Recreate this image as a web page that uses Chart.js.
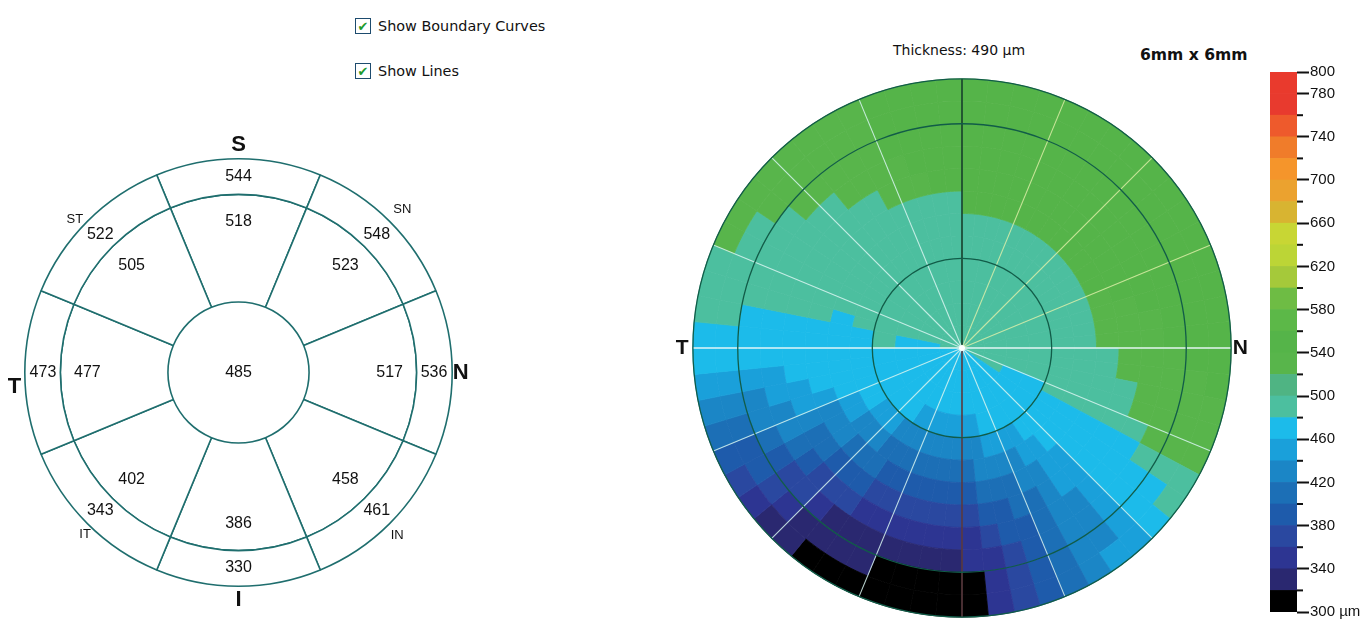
<!DOCTYPE html>
<html>
<head>
<meta charset="utf-8">
<script src="https://cdn.jsdelivr.net/npm/chart.js@4.4.1/dist/chart.umd.min.js"></script>
<style>
  html, body { margin: 0; padding: 0; background: #fff; }
  body { width: 1363px; height: 619px; position: relative; overflow: hidden; font-family: "Liberation Sans", Arial, sans-serif; }
  .pane { position: absolute; }
  .chk { position: absolute; left: 355px; display: flex; align-items: center; font-family: "DejaVu Sans", Tahoma, sans-serif; font-size: 14.4px; color: #111; }
  .chk .b { width: 14px; height: 14px; border: 1px solid #1d4b6e; background: #fff; margin-right: 7px; display: flex; align-items: center; justify-content: center; color: #1f9a2e; font-size: 13px; font-weight: bold; line-height: 1; }
  .txt { position: absolute; font-family: "DejaVu Sans", Tahoma, sans-serif; color: #111; white-space: nowrap; }
</style>
</head>
<body>
<div class="chk" style="top:18px"><span class="b">✔</span>Show Boundary Curves</div>
<div class="chk" style="top:63px"><span class="b">✔</span>Show Lines</div>
<div class="txt" style="left:893px; top:42px; font-size:14px;">Thickness: 490 µm</div>
<div class="txt" style="left:1140px; top:46px; font-size:15.6px; font-weight:bold;">6mm x 6mm</div>

<div class="pane" style="left:0; top:120px; width:477px; height:499px;"><canvas id="sectorChart"></canvas></div>
<div class="pane" style="left:660px; top:70px; width:604px; height:549px;"><canvas id="mapChart"></canvas></div>
<div class="pane" style="left:1262px; top:56px; width:101px; height:566px;"><canvas id="scaleChart"></canvas></div>

<script>
// sector summary, clockwise from superior
const sectorNames = ['S', 'SN', 'N', 'IN', 'I', 'IT', 'T', 'ST'];
const outerThickness = [544, 548, 536, 461, 330, 343, 473, 522];
const middleThickness = [518, 523, 517, 458, 386, 402, 477, 505];
const centralThickness = [485];

// thickness map: 12 rings of 0.25 mm (centre outwards), clockwise from superior.
// rings 1-4: 32 cells of 11.25 deg, rings 5-12: 64 cells of 5.625 deg
const ring1  = [490,490,490,490,490,490,490,490, 490,490,490,478,475,475,475,475, 475,475,475,475,475,478,478,478, 488,490,490,490,490,490,490,490];
const ring2  = [490,490,490,490,490,490,490,490, 490,490,490,475,470,470,470,470, 470,470,470,470,470,472,472,472, 478,482,490,490,490,490,490,490];
const ring3  = [490,490,490,490,490,490,490,490, 490,490,478,470,470,470,470,468, 468,468,468,470,470,470,470,472, 478,490,490,490,490,490,490,490];
const ring4  = [490,490,490,490,490,490,490,490, 490,490,475,470,468,466,462,450, 450,450,450,462,465,470,470,472, 488,490,490,490,490,490,490,490];
const ring5  = [490,490,490,490,490,490,490,490,490,490,490,490,490,490,490,490, 490,490,490,490,482,476,472,470,466,462,455,450,448,444,438,432,
                430,430,430,430,430,432,436,442,448,455,462,466,468,470,470,472, 474,478,490,490,490,490,490,490,490,490,490,490,490,490,490,490];
const ring6  = [490,490,490,492,492,492,492,492,492,492,492,492,492,492,492,490, 490,490,490,490,490,476,472,468,462,455,448,438,434,430,424,418,
                412,410,410,410,412,416,418,424,430,438,445,455,462,466,470,470, 472,474,478,490,490,490,490,490,490,490,490,490,490,490,490,490];
const ring7  = [540,540,542,542,542,544,544,544,544,542,540,540,538,536,535,532, 495,492,490,490,488,476,472,468,452,448,438,432,418,412,405,395,
                392,390,390,392,394,396,402,408,415,425,430,438,448,462,468,470, 472,475,482,490,490,490,490,490,490,490,490,490,490,490,492,492];
const ring8  = [542,544,545,546,546,548,548,548,546,545,544,542,540,538,536,535, 534,530,498,492,488,476,470,462,452,444,434,418,412,398,392,376,
                372,370,370,372,375,378,384,390,396,404,416,424,442,452,462,468, 472,474,484,490,490,490,490,490,490,490,495,525,532,538,540,542];
const ring9  = [545,546,548,548,550,550,550,550,548,548,546,545,542,540,538,538, 536,535,532,525,492,478,472,462,452,438,428,415,398,392,375,355,
                350,348,348,350,352,356,365,372,378,385,402,422,432,445,458,468, 472,475,486,490,490,490,490,490,495,522,528,532,536,540,542,544];
const ring10 = [545,546,548,550,550,552,552,552,550,550,548,546,544,542,540,540, 538,536,534,530,522,490,474,462,450,436,424,412,396,378,356,342,
                332,330,328,328,330,332,336,345,362,376,386,404,424,436,452,466, 472,478,488,490,490,490,490,520,526,528,532,536,540,542,544,545];
const ring11 = [546,548,550,552,552,554,554,554,552,552,550,548,546,544,542,540, 540,538,536,534,528,494,476,462,452,438,424,412,392,366,348,316,
                310,310,310,310,325,328,330,334,342,364,382,396,414,428,446,464, 472,482,488,490,492,498,522,526,528,530,534,538,540,542,544,545];
const ring12 = [548,550,550,552,554,556,556,556,554,554,552,550,548,546,544,542, 540,540,538,536,532,496,488,468,454,442,428,414,395,372,352,312,
                310,310,310,310,310,310,310,325,332,352,372,392,412,432,452,468, 474,486,490,492,520,524,526,528,530,532,536,538,540,542,544,546];
const mapRings = [ring1, ring2, ring3, ring4, ring5, ring6, ring7, ring8, ring9, ring10, ring11, ring12];

// colour scale: lower bound of each 20 um band and its colour
const bandLow = [300,320,340,360,380,400,420,440,460,480,500,520,540,560,580,600,620,640,660,680,700,720,740,760,780];
const bandColors = ['#000000','#2a2870','#2d3592','#2a48a0','#1e5bab','#1c6fb6','#1b86c6','#1aa0da','#1cbbea','#4cbf9f',
                    '#4fb483','#58b54b','#55b449','#5cb848','#6ebc44','#a5c93a','#bcd536','#c8d634','#d8b431','#eba22f',
                    '#f5952b','#f07c2a','#ee5a2c','#e83a2e','#e93a2d'];
const scaleMin = 300, scaleMax = 800;
const scaleLabels = [800, 780, 740, 700, 660, 620, 580, 540, 500, 460, 420, 380, 340, 300];

function bandColor(v) {
  let idx = 0;
  bandLow.forEach((b, i) => { if (v >= b) idx = i; });
  return bandColors[idx];
}

const numFont = '16px "Liberation Sans", Arial, sans-serif';

// ---------- left: sector diagram ----------
const compassMarks = [
  { text: 'S',  deg: 0,     f: 1.066, font: 'bold 22px "Liberation Sans", Arial' },
  { text: 'N',  deg: 90,    f: 1.04,  font: 'bold 22px "Liberation Sans", Arial' },
  { text: 'I',  deg: 180,   f: 1.066, font: 'bold 22px "Liberation Sans", Arial' },
  { text: 'T',  deg: 266.3, f: 1.05,  font: 'bold 22px "Liberation Sans", Arial' },
  { text: 'ST', deg: 313,   f: 1.047, font: '13px "Liberation Sans", Arial' },
  { text: 'SN', deg: 45.2,  f: 1.08,  font: '13px "Liberation Sans", Arial' },
  { text: 'IT', deg: 223.4, f: 1.045, font: '13px "Liberation Sans", Arial' },
  { text: 'IN', deg: 135.7, f: 1.063, font: '13px "Liberation Sans", Arial' }
];

const sectorLabels = {
  id: 'sectorLabels',
  afterDatasetsDraw(chart) {
    const ctx = chart.ctx;
    const outer = chart.getDatasetMeta(0).data;
    const cx = outer[0].x, cy = outer[0].y, R = outer[0].outerRadius;
    ctx.save();
    ctx.fillStyle = '#111';
    ctx.textAlign = 'center';
    ctx.textBaseline = 'middle';
    ctx.font = numFont;
    outer.forEach((el, i) => {
      const mid = (el.startAngle + el.endAngle) / 2;
      ctx.fillText(outerThickness[i], cx + 0.915 * R * Math.cos(mid), cy + 0.915 * R * Math.sin(mid));
      ctx.fillText(middleThickness[i], cx + 0.707 * R * Math.cos(mid), cy + 0.707 * R * Math.sin(mid));
    });
    ctx.fillText(centralThickness[0], cx, cy);
    compassMarks.forEach(m => {
      const a = m.deg * Math.PI / 180;
      ctx.font = m.font;
      ctx.fillText(m.text, cx + m.f * R * Math.sin(a), cy - m.f * R * Math.cos(a));
    });
    ctx.restore();
  }
};

const ringStyle = { backgroundColor: '#ffffff', borderColor: '#1f6e6e', borderWidth: 1.6, hoverOffset: 0, offset: 0 };

new Chart(document.getElementById('sectorChart'), {
  type: 'doughnut',
  data: {
    labels: sectorNames,
    datasets: [
      Object.assign({ data: outerThickness.map(() => 1), weight: 35.5 }, ringStyle),
      Object.assign({ data: middleThickness.map(() => 1), weight: 107.5 }, ringStyle),
      // central zone: its outline comes from the middle ring's inner edge
      Object.assign({}, ringStyle, { data: centralThickness.map(() => 1), weight: 70.5, borderWidth: 0 })
    ]
  },
  options: {
    responsive: true,
    maintainAspectRatio: false,
    animation: false,
    events: [],
    cutout: 0,
    rotation: -22.5,
    layout: { padding: { left: 24, right: 24, top: 38, bottom: 32 } },
    plugins: { legend: { display: false }, tooltip: { enabled: false } }
  },
  plugins: [sectorLabels]
});

// ---------- right: thickness map ----------
const mapOverlay = {
  id: 'mapOverlay',
  afterDatasetsDraw(chart) {
    const ctx = chart.ctx;
    const el = chart.getDatasetMeta(0).data[0];
    const cx = el.x, cy = el.y, R = el.outerRadius;
    ctx.save();
    // meridians every 22.5 deg
    for (let i = 0; i < 16; i++) {
      const a = i * Math.PI / 8;
      ctx.beginPath();
      ctx.moveTo(cx, cy);
      ctx.lineTo(cx + R * Math.sin(a), cy - R * Math.cos(a));
      if (i === 0) { ctx.strokeStyle = '#173f2c'; ctx.lineWidth = 1.6; }
      else if (i === 8) { ctx.strokeStyle = '#5b3a3f'; ctx.lineWidth = 1.6; }
      else if (i === 4 || i === 12) { ctx.strokeStyle = 'rgba(235,250,250,0.95)'; ctx.lineWidth = 1.6; }
      else if (i < 4) { ctx.strokeStyle = 'rgba(225,240,170,0.8)'; ctx.lineWidth = 1.1; }
      else { ctx.strokeStyle = 'rgba(215,245,240,0.85)'; ctx.lineWidth = 1.1; }
      ctx.stroke();
    }
    // 2 mm, 5 mm and 6 mm zone circles
    ctx.strokeStyle = '#115c48';
    ctx.lineWidth = 1.3;
    [1 / 3, 2.5 / 3, 1].forEach(f => {
      ctx.beginPath();
      ctx.arc(cx, cy, R * f, 0, Math.PI * 2);
      ctx.stroke();
    });
    // centre mark
    ctx.fillStyle = '#ffffff';
    ctx.beginPath();
    ctx.arc(cx, cy, 3, 0, Math.PI * 2);
    ctx.fill();
    // T / N labels
    ctx.fillStyle = '#111';
    ctx.font = 'bold 21px "Liberation Sans", Arial';
    ctx.textAlign = 'center';
    ctx.textBaseline = 'middle';
    ctx.fillText('T', cx - 1.04 * R, cy);
    ctx.fillText('N', cx + 1.034 * R, cy);
    ctx.restore();
  }
};

new Chart(document.getElementById('mapChart'), {
  type: 'doughnut',
  data: {
    labels: ring12.map((v, i) => 'cell ' + (i + 1)),
    datasets: mapRings.slice().reverse().map(ring => ({
      data: ring.map(() => 1),
      backgroundColor: ring.map(bandColor),
      borderColor: ring.map(bandColor),
      borderWidth: 0.8,
      hoverOffset: 0
    }))
  },
  options: {
    responsive: true,
    maintainAspectRatio: false,
    animation: false,
    events: [],
    cutout: 0,
    rotation: 0,
    layout: { padding: { left: 32.5, right: 32.5, top: 8.5, bottom: 1.5 } },
    plugins: { legend: { display: false }, tooltip: { enabled: false } }
  },
  plugins: [mapOverlay]
});

// ---------- colour scale ----------
const minorTicks = {
  id: 'minorTicks',
  afterDraw(chart) {
    const y = chart.scales.y;
    const ctx = chart.ctx;
    ctx.save();
    ctx.strokeStyle = '#111';
    ctx.lineWidth = 2;
    bandLow.concat([scaleMax]).forEach(v => {
      if (scaleLabels.includes(v)) return;
      const py = y.getPixelForValue(v);
      ctx.beginPath();
      ctx.moveTo(y.left, py);
      ctx.lineTo(y.left + 6, py);
      ctx.stroke();
    });
    ctx.restore();
  }
};

new Chart(document.getElementById('scaleChart'), {
  type: 'bar',
  data: {
    labels: ['µm'],
    datasets: bandLow.map((lo, i) => ({
      data: [[lo, lo + 20]],
      backgroundColor: bandColors[i],
      borderWidth: 0,
      grouped: false,
      barPercentage: 1,
      categoryPercentage: 1
    }))
  },
  options: {
    responsive: true,
    maintainAspectRatio: false,
    animation: false,
    events: [],
    layout: { padding: { left: 8, right: 0, top: 16, bottom: 10 } },
    plugins: { legend: { display: false }, tooltip: { enabled: false } },
    scales: {
      x: { display: false },
      y: {
        position: 'right',
        min: scaleMin,
        max: scaleMax,
        border: { display: false },
        afterBuildTicks: s => { s.ticks = bandLow.concat([scaleMax]).map(v => ({ value: v })); },
        afterFit: s => { s.width = 66; },
        grid: {
          drawOnChartArea: false,
          drawTicks: true,
          tickLength: 12,
          tickWidth: 2,
          tickColor: c => scaleLabels.includes(c.tick && c.tick.value) ? '#111' : 'rgba(0,0,0,0)'
        },
        ticks: {
          autoSkip: false,
          padding: 1,
          color: '#111',
          font: { size: 15, family: '"Liberation Sans", Arial, sans-serif' },
          callback: v => v === scaleMin ? '300 µm' : (scaleLabels.includes(v) ? String(v) : '')
        }
      }
    }
  },
  plugins: [minorTicks]
});
</script>
</body>
</html>
